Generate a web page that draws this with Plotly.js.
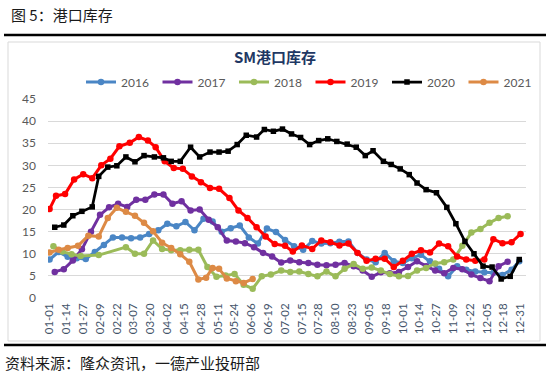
<!DOCTYPE html>
<html>
<head>
<meta charset="utf-8">
<script src="https://cdn.plot.ly/plotly-3.0.1.min.js"></script>
<style>html,body{margin:0;padding:0;background:#fff;}#chart{width:550px;height:374px;}</style>
</head>
<body>
<div id="chart"></div>
<script>
// Day offsets from 01-01 and inventory values (10k t)
const tickLabelFormat = '%m-%d';
const seriesNames = ['2016','2017','2018','2019','2020','2021'];

const day2016 = [0,7,14,21,28,35,42,49,56,63,70,77,84,91,98,105,112,119,126,133,140,147,154,161,168,175,182,189,196,203,210,217,224,231,238,245,252,259,266,273,280,287,294,301,308,315,322,329,336,343,350,357,363];
const val2016 = [8.7,10.4,9.3,9.0,8.8,10.4,12.0,13.7,13.7,13.5,13.7,14.5,15.3,16.8,16.2,17.2,15.3,17.9,17.3,15.0,15.8,16.4,13.7,12.3,15.7,14.9,13.1,11.7,10.9,12.9,12.3,12.4,12.7,12.8,10.2,8.7,8.1,10.2,8.3,7.9,9.0,9.8,8.3,6.6,4.9,7.2,6.4,6.0,5.8,5.7,5.2,6.4,8.3];

const day2017 = [4,11,18,25,32,39,46,53,60,67,74,81,88,95,102,109,116,123,130,137,144,151,158,165,172,179,186,193,200,207,214,221,228,235,242,249,256,263,270,277,284,291,298,305,312,319,326,333,340,347,354];
const val2017 = [5.9,6.5,8.5,11.0,15.0,18.8,20.5,21.3,20.6,22.2,22.2,23.4,23.4,21.3,21.9,19.8,20.0,17.7,16.0,13.0,12.8,12.4,11.5,10.2,9.4,8.0,8.5,8.1,7.9,7.5,7.4,7.5,7.9,7.2,6.2,4.8,5.8,5.6,5.9,7.0,8.3,7.2,6.2,5.6,6.8,6.5,5.3,4.5,3.8,7.2,8.2];

const day2018 = [3,10,17,24,38,59,66,73,80,87,94,101,108,115,122,129,136,143,150,157,164,171,179,186,193,200,207,214,221,228,235,242,249,256,263,270,277,284,291,298,305,312,319,326,333,340,347,354];
const val2018 = [11.7,10.5,9.9,9.5,9.7,11.5,10.0,10.0,13.0,11.1,10.8,10.8,10.9,10.9,7.0,4.8,5.1,5.4,3.0,2.1,4.9,5.3,6.2,5.9,6.0,5.4,4.9,6.0,4.9,6.6,7.7,6.6,6.9,6.2,5.4,4.9,5.0,6.2,6.8,7.8,8.1,8.7,11.8,14.8,15.6,17.0,18.1,18.5];

const day2019 = [0,5,12,19,26,33,40,47,54,62,69,76,82,89,96,103,110,117,124,131,139,146,153,160,167,174,182,188,195,203,210,217,224,231,238,245,252,259,266,273,280,287,294,301,308,315,322,329,336,343,350,357,364];
const val2019 = [20.1,23.1,23.5,26.8,28.0,27.1,30.0,31.5,34.3,35.1,36.4,35.6,34.1,30.9,29.4,29.2,27.5,26.2,24.9,24.7,22.6,19.8,18.1,16.0,13.9,12.2,11.8,10.5,11.9,11.1,13.0,12.6,11.9,12.3,10.2,8.4,8.9,8.9,7.0,8.4,10.0,10.8,10.3,12.3,11.7,9.4,8.7,8.4,8.7,13.3,12.4,12.6,14.5];

const day2020 = [4,11,18,25,33,38,45,52,59,66,73,81,88,94,101,109,116,124,131,138,145,152,160,166,173,180,187,194,201,208,215,222,230,237,244,250,258,264,271,278,284,291,299,307,314,321,328,335,342,349,356,363];
const val2020 = [16.0,16.5,18.6,19.6,20.6,27.5,29.6,29.9,31.9,30.8,32.2,31.9,31.7,30.9,30.9,34.1,31.9,33.0,33.0,33.2,34.7,36.8,36.4,38.1,37.7,38.2,37.1,36.3,34.7,35.6,36.0,35.4,34.8,34.1,32.2,33.3,30.9,30.2,29.2,27.9,26.0,24.5,23.8,20.5,16.8,12.8,10.0,7.2,7.0,4.3,4.9,8.7];

const day2021 = [0,7,14,22,30,38,45,52,59,66,73,80,87,94,101,108,115,121,126,131,137,144,150,157];
const val2021 = [10.3,10.9,11.3,11.8,14.1,13.9,18.1,20.4,19.5,18.6,17.0,15.1,12.5,11.3,9.9,8.2,4.2,4.6,6.8,6.6,4.4,3.8,3.4,4.3];

const seriesColors = ['#4A86C5','#7030A0','#9BBB59','#FF0000','#000000','#DD8A45'];

// Build the traces (x on a common-year date axis)
const BASE = Date.UTC(2021, 0, 1);
function toDate(d) { return new Date(BASE + d * 86400000).toISOString().slice(0, 10); }

const days = [day2016, day2017, day2018, day2019, day2020, day2021];
const vals = [val2016, val2017, val2018, val2019, val2020, val2021];

const traces = seriesNames.map((name, i) => ({
  type: 'scatter',
  mode: 'lines+markers',
  name: name,
  x: days[i].map(toDate),
  y: vals[i],
  line: {color: seriesColors[i], width: i === 4 ? 2.75 : 3},
  marker: {color: seriesColors[i], size: i === 4 ? 5.5 : 6.5, symbol: i === 4 ? 'square' : 'circle'}
}));

// pixel -> paper helpers for decoration placement
const PL = 48, PR = 526, PT = 99, PB = 298;
const px = v => (v - PL) / (PR - PL);
const py = v => (PB - v) / (PB - PT);

const layout = {
  width: 550, height: 374,
  margin: {l: PL, r: 550 - PR, t: PT, b: 374 - PB, pad: 0},
  paper_bgcolor: '#ffffff', plot_bgcolor: '#ffffff',
  font: {family: 'Lato, "Noto Sans CJK SC", sans-serif', color: '#595959', size: 12},
  showlegend: true,
  title: {
    text: '<b>SM港口库存</b>',
    font: {family: '"Noto Sans CJK SC", sans-serif', size: 15, color: '#1F3864'},
    x: 0.5, xref: 'container', xanchor: 'center',
    y: 1 - 58 / 374, yref: 'container', yanchor: 'middle'
  },
  legend: {
    orientation: 'h', xref: 'container', x: 81 / 550, xanchor: 'left',
    yref: 'container', y: 1 - 82 / 374, yanchor: 'middle',
    font: {size: 12, color: '#595959'}, itemwidth: 30, entrywidth: 31.5, entrywidthmode: 'pixels',
    bgcolor: 'rgba(0,0,0,0)', traceorder: 'normal'
  },
  xaxis: {
    type: 'date',
    range: ['2020-12-30 19:12', '2022-01-04 04:48'],
    tickmode: 'linear', tick0: '2021-01-01', dtick: 13 * 86400000,
    tickformat: tickLabelFormat, tickangle: -90,
    tickfont: {size: 11.5, color: '#44546A'},
    showgrid: false, zeroline: false, showline: false, ticks: '', ticklabelstandoff: 2
  },
  yaxis: {
    range: [0, 45], tickmode: 'linear', tick0: 0, dtick: 5,
    tickfont: {size: 12, color: '#595959'},
    showgrid: true, gridcolor: '#D9D9D9', gridwidth: 1,
    zeroline: false, showline: false, ticks: '', ticklabelstandoff: 11
  },
  shapes: [
    {type: 'rect', xref: 'paper', yref: 'paper', x0: px(8), x1: px(540), y0: py(341), y1: py(42),
     line: {color: '#D9D9D9', width: 1}, fillcolor: 'rgba(0,0,0,0)', layer: 'below'},
    {type: 'line', xref: 'paper', yref: 'paper', x0: px(4), x1: px(546), y0: py(35), y1: py(35),
     line: {color: '#000000', width: 2.5}},
    {type: 'line', xref: 'paper', yref: 'paper', x0: px(4), x1: px(546), y0: py(345), y1: py(345),
     line: {color: '#000000', width: 2.5}}
  ],
  annotations: [
    {text: '图 5：港口库存', xref: 'paper', yref: 'paper', x: px(9), y: py(14), xanchor: 'left', yanchor: 'middle',
     showarrow: false, font: {family: '"Noto Sans CJK SC", sans-serif', size: 15, color: '#1a1a1a'}},
    {text: '资料来源：隆众资讯，一德产业投研部', xref: 'paper', yref: 'paper', x: px(3), y: py(362), xanchor: 'left', yanchor: 'middle',
     showarrow: false, font: {family: '"Noto Sans CJK SC", sans-serif', size: 15, color: '#1a1a1a'}}
  ]
};

Plotly.newPlot('chart', traces, layout, {staticPlot: true, displayModeBar: false});
</script>
</body>
</html>
